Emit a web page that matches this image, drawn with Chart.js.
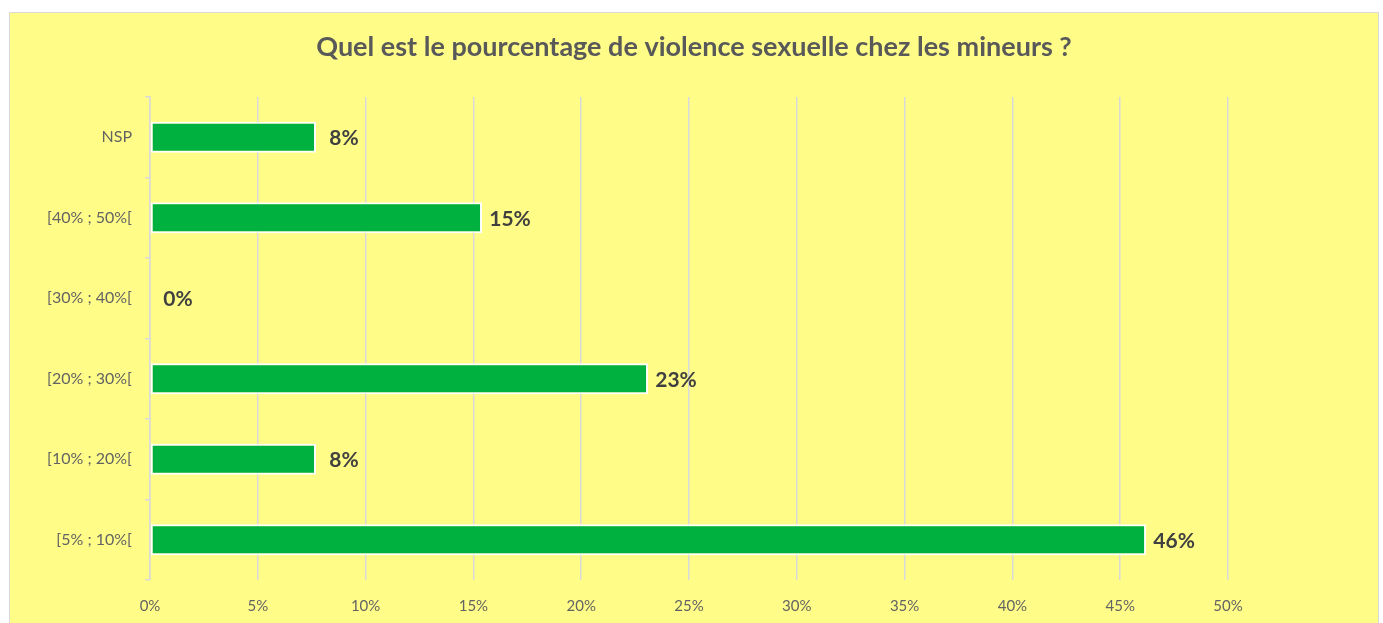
<!DOCTYPE html>
<html>
<head>
<meta charset="utf-8">
<script src="https://cdn.jsdelivr.net/npm/chart.js@4"></script>
<style>
  html, body { margin: 0; padding: 0; background: #fff; width: 1383px; height: 623px; overflow: hidden; }
  .panel { position: absolute; left: 9px; top: 12px; width: 1368px; height: 620px; background: #fffd88; border: 1px solid #d9d9d9; }
  .wrap { position: absolute; left: 0; top: 0; width: 1383px; height: 623px; }
</style>
</head>
<body>
<div class="panel"></div>
<div class="wrap"><canvas id="c" width="1383" height="623"></canvas></div>
<script>
// data (n = 13 answers)
const categories = ['NSP', '[40% ; 50%[', '[30% ; 40%[', '[20% ; 30%[', '[10% ; 20%[', '[5% ; 10%['];
const percents = [7.7, 15.4, 0, 23.1, 7.7, 46.2];
const barLabels = ['8%', '15%', '0%', '23%', '8%', '46%'];
const chartTitle = 'Quel est le pourcentage de violence sexuelle chez les mineurs ?';

const axisGrey = '#d9d9d9';
const textGrey = '#636363';

// title centred on the whole panel, value labels past each bar end
const overlay = {
  id: 'overlay',
  afterDatasetsDraw(chart) {
    const ctx = chart.ctx;
    ctx.save();
    ctx.font = 'bold 27px Lato';
    ctx.fillStyle = '#595959';
    ctx.textAlign = 'center';
    ctx.textBaseline = 'middle';
    ctx.fillText(chartTitle, 694, 47);

    ctx.font = 'bold 21px Lato';
    ctx.fillStyle = '#404040';
    chart.getDatasetMeta(0).data.forEach((bar, i) => {
      ctx.fillText(barLabels[i], bar.x + 28, bar.y + 1);
    });
    ctx.restore();
  }
};

new Chart(document.getElementById('c'), {
  type: 'bar',
  data: {
    labels: categories,
    datasets: [{
      data: percents,
      backgroundColor: '#00b140',
      borderColor: '#ffffff',
      borderWidth: 2,
      borderSkipped: false,
      categoryPercentage: 1,
      barPercentage: 0.385
    }]
  },
  options: {
    indexAxis: 'y',
    responsive: false,
    animation: false,
    layout: { padding: { left: 0, right: 155, top: 97, bottom: 0 } },
    plugins: {
      legend: { display: false },
      tooltip: { enabled: false },
      title: { display: false }
    },
    scales: {
      x: {
        min: 0, max: 50,
        ticks: { stepSize: 5, color: textGrey, font: { family: 'Lato', size: 15 }, padding: 17, callback: v => v + '%' },
        grid: { color: axisGrey, lineWidth: 1.5, drawTicks: false },
        border: { display: false },
        afterFit(s) { s.height = 43; }
      },
      y: {
        ticks: { color: textGrey, font: { family: 'Lato', size: 16 }, padding: 13 },
        grid: { drawOnChartArea: false, offset: true, color: axisGrey, tickLength: 5, lineWidth: 1.5 },
        border: { display: true, color: axisGrey, width: 1.5 },
        afterFit(s) { s.width = 150; }
      }
    }
  },
  plugins: [overlay]
});
</script>
</body>
</html>
